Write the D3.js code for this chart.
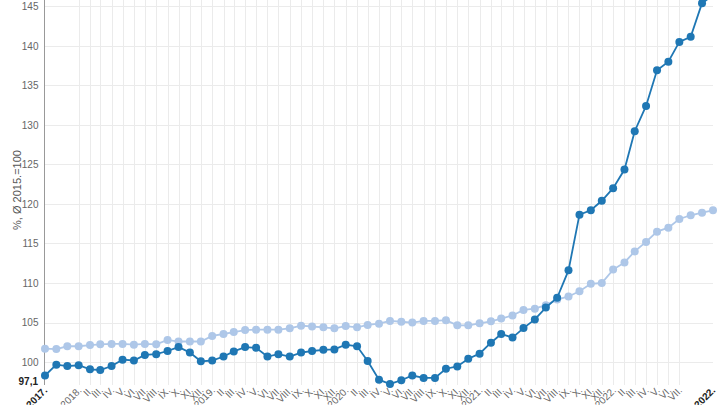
<!DOCTYPE html>
<html>
<head>
<meta charset="utf-8">
<script src="https://cdn.jsdelivr.net/npm/d3@7"></script>
<style>
  body { margin: 0; background: #fff; }
  svg { display: block; font-family: "Liberation Sans", Arial, sans-serif; }
</style>
</head>
<body>
<svg id="chart" width="720" height="405"></svg>
<script>
// monthly index values, 2017 X .. 2022 X
const firstMonth = new Date(2017, 9, 1);
const lastMonth = new Date(2022, 9, 1);

const darkValues = [
  98.3, 99.67, 99.5,
  99.6, 99.08, 99.0, 99.5, 100.3, 100.2, 100.9, 101.0, 101.4, 101.9, 101.2, 100.1,
  100.2, 100.7, 101.35, 101.9, 101.8, 100.7, 101.0, 100.7, 101.2, 101.4, 101.55, 101.6,
  102.2, 102.0, 100.13, 97.77, 97.23, 97.7, 98.3, 98.0, 98.0, 99.16, 99.45, 100.43,
  101.06, 102.45, 103.55, 103.1, 104.3, 105.4, 106.9, 108.14, 111.6, 118.65, 119.2, 120.4,
  122.0, 124.35, 129.2, 132.4, 136.9, 138.0, 140.5, 141.15, 145.4, 146.4
];

const lightValues = [
  101.7, 101.65, 102.0,
  102.0, 102.15, 102.24, 102.3, 102.3, 102.2, 102.3, 102.24, 102.8, 102.6, 102.6, 102.6,
  103.3, 103.55, 103.8, 104.05, 104.1, 104.1, 104.1, 104.27, 104.6, 104.5, 104.4, 104.27,
  104.55, 104.4, 104.7, 104.86, 105.2, 105.1, 105.0, 105.2, 105.2, 105.3, 104.65, 104.65,
  104.9, 105.15, 105.5, 105.9, 106.6, 106.75, 107.2, 107.9, 108.3, 108.95, 109.9, 110.0,
  111.7, 112.6, 114.0, 115.2, 116.5, 117.0, 118.1, 118.57, 118.9, 119.2
];

const romanMonths = ['I.', 'II.', 'III.', 'IV.', 'V.', 'VI.', 'VII.', 'VIII.', 'IX.', 'X.', 'XI.', 'XII.'];
const yTicks = [100, 105, 110, 115, 120, 125, 130, 135, 140, 145];
const yBottom = 97.1;
const yTop = 145.8;
const yLabel = '%, Ø 2015.=100';
const startLabel = '2017.';
const endLabel = '2022.';

const months = d3.timeMonth.range(firstMonth, d3.timeMonth.offset(lastMonth, 1));
const tickMonths = d3.timeMonth.range(new Date(2018, 0, 1), new Date(2022, 7, 1));

const svg = d3.select('#chart');

let x = d3.scaleTime().domain([firstMonth, lastMonth]).range([45, 713]);
let y = d3.scaleLinear().domain([yBottom, yTop]).range([385, 0]);

// grid
let grid = svg.append('g').attr('stroke', '#ebebeb').attr('stroke-width', 1);
grid.selectAll('.hgrid')
    .data(yTicks)
    .enter().append('line')
    .attr('x1', 44).attr('x2', 713)
    .attr('y1', d => Math.round(y(d)) + 0.5)
    .attr('y2', d => Math.round(y(d)) + 0.5);
grid.selectAll('.vgrid')
    .data(tickMonths)
    .enter().append('line')
    .attr('x1', d => Math.round(x(d)) + 0.5)
    .attr('x2', d => Math.round(x(d)) + 0.5)
    .attr('y1', 0).attr('y2', 385);

// y axis
let yAxis = svg.append('g')
               .attr('transform', 'translate(44.5,0)')
               .call(d3.axisLeft(y).tickValues(yTicks).tickSize(0).tickPadding(6));
yAxis.select('.domain').attr('stroke', '#999').attr('d', 'M0,0V385');
yAxis.selectAll('text').attr('fill', '#666').attr('font-size', 10)
     .attr('font-family', '"Liberation Sans", Arial, sans-serif');

svg.append('text')
   .attr('x', 38).attr('y', y(yBottom))
   .attr('text-anchor', 'end')
   .attr('font-size', 10).attr('font-weight', 'bold').attr('fill', '#222')
   .text(String(yBottom).replace('.', ','));

svg.append('text')
   .attr('transform', 'translate(21,190) rotate(-90)')
   .attr('text-anchor', 'middle')
   .attr('font-size', 11).attr('fill', '#555')
   .text(yLabel);

// x axis labels (rotated, partly running off the bottom edge as in the original)
let monthLabel = d => d.getMonth() === 0 ? d.getFullYear() + '.' : romanMonths[d.getMonth()];
let xAxis = svg.append('g')
               .attr('transform', 'translate(0,385)')
               .call(d3.axisBottom(x).tickValues(tickMonths).tickFormat(monthLabel).tickSize(0));
xAxis.select('.domain').remove();
xAxis.selectAll('text')
     .attr('fill', '#666').attr('font-size', 10)
     .attr('font-family', '"Liberation Sans", Arial, sans-serif')
     .attr('text-anchor', 'end')
     .attr('dy', null).attr('y', null)
     .attr('transform', 'translate(3,6) rotate(-45)');

[[firstMonth, startLabel], [lastMonth, endLabel]].forEach(([d, label]) => {
    svg.append('text')
       .attr('transform', `translate(${x(d) + 3},391) rotate(-45)`)
       .attr('text-anchor', 'end')
       .attr('font-size', 10).attr('font-weight', 'bold').attr('fill', '#222')
       .text(label);
});

// series
let series = [
    { values: lightValues, color: '#aec7e8' },
    { values: darkValues, color: '#1f77b4' }
];
let line = d3.line().x((d, i) => x(months[i])).y(d => y(d));

series.forEach(s => {
    let g = svg.append('g');
    g.append('path')
     .attr('d', line(s.values))
     .attr('fill', 'none')
     .attr('stroke', s.color)
     .attr('stroke-width', 1.8);
    g.selectAll('circle')
     .data(s.values)
     .enter().append('circle')
     .attr('cx', (d, i) => x(months[i]))
     .attr('cy', d => y(d))
     .attr('r', 4)
     .attr('fill', s.color);
});
</script>
</body>
</html>
